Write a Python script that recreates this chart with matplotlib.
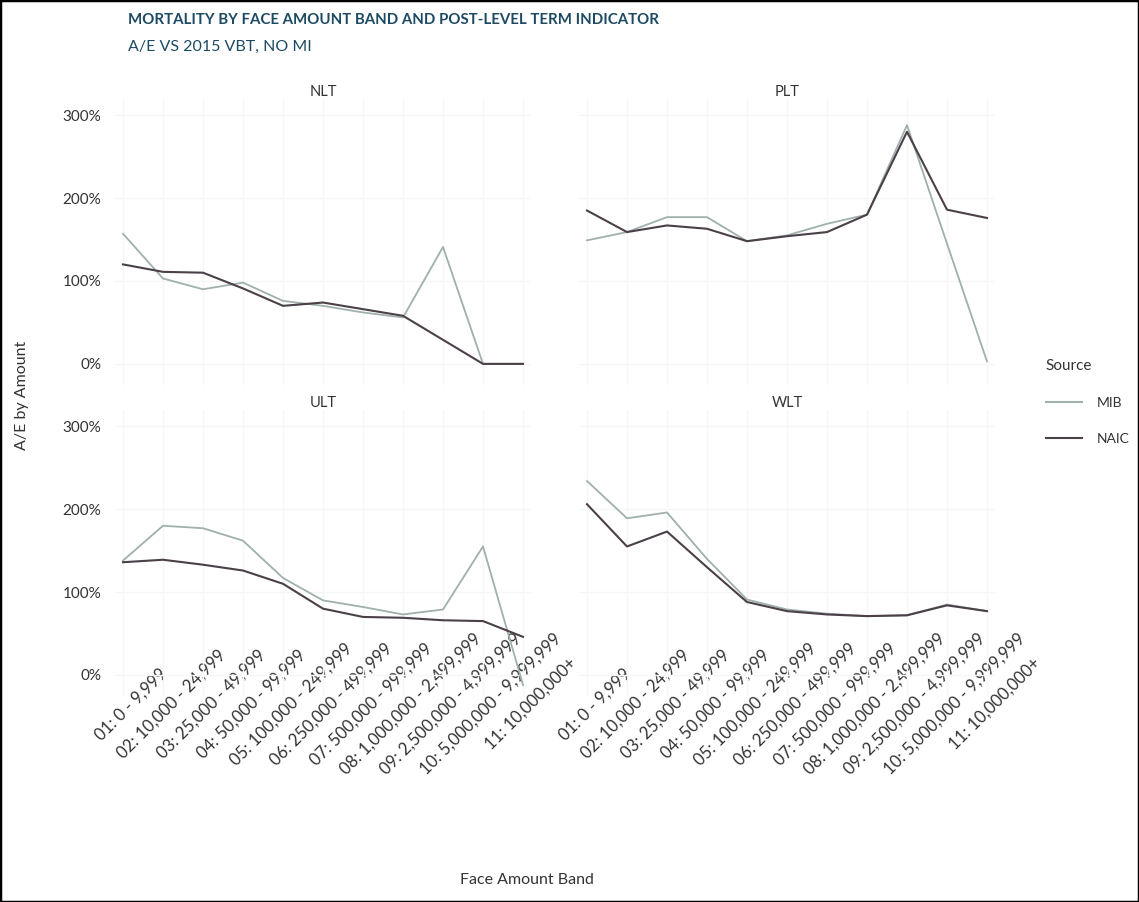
import matplotlib
matplotlib.use("Agg")
import matplotlib.pyplot as plt
import matplotlib.transforms as mtransforms
from matplotlib.ticker import FuncFormatter
from matplotlib.patches import Rectangle
from matplotlib.lines import Line2D

# Face amount bands (x categories)
bands = [
    "01: 0 - 9,999",
    "02: 10,000 - 24,999",
    "03: 25,000 - 49,999",
    "04: 50,000 - 99,999",
    "05: 100,000 - 249,999",
    "06: 250,000 - 499,999",
    "07: 500,000 - 999,999",
    "08: 1,000,000 - 2,499,999",
    "09: 2,500,000 - 4,999,999",
    "10: 5,000,000 - 9,999,999",
    "11: 10,000,000+",
]

panels = ["NLT", "PLT", "ULT", "WLT"]
sources = ["MIB", "NAIC"]

# A/E ratios by post-level term indicator
nlt_mib = [1.57, 1.03, 0.90, 0.98, 0.76, 0.70, 0.62, 0.56, 1.41, 0.00, 0.00]
nlt_naic = [1.20, 1.11, 1.10, 0.91, 0.70, 0.74, 0.66, 0.58, 0.29, 0.00, 0.00]
plt_mib = [1.49, 1.59, 1.77, 1.77, 1.48, 1.55, 1.69, 1.80, 2.88, 1.45, 0.03]
plt_naic = [1.85, 1.59, 1.67, 1.63, 1.48, 1.54, 1.59, 1.80, 2.80, 1.86, 1.76]
ult_mib = [1.38, 1.80, 1.77, 1.62, 1.17, 0.90, 0.82, 0.73, 0.79, 1.55, -0.12]
ult_naic = [1.36, 1.39, 1.33, 1.26, 1.10, 0.80, 0.70, 0.69, 0.66, 0.65, 0.46]
wlt_mib = [2.34, 1.89, 1.96, 1.40, 0.91, 0.79, 0.74, 0.71, 0.72, 0.85, 0.77]
wlt_naic = [2.06, 1.55, 1.73, 1.30, 0.88, 0.77, 0.73, 0.71, 0.72, 0.84, 0.77]

series = {
    "NLT": (nlt_mib, nlt_naic),
    "PLT": (plt_mib, plt_naic),
    "ULT": (ult_mib, ult_naic),
    "WLT": (wlt_mib, wlt_naic),
}

colors = {"MIB": "#9fb0ad", "NAIC": "#4b4048"}
yticks = [0, 1, 2, 3]

plt.rcParams["font.family"] = ["Lato", "DejaVu Sans"]
text_color = "#333333"
title_color = "#1d4a63"

W, H = 1139, 902
fig = plt.figure(figsize=(W / 100, H / 100), dpi=100)
fig.patch.set_facecolor("white")

# axes boxes in pixel units: (left, top, width, height)
boxes = {
    "NLT": (115, 98.6, 416, 286),
    "PLT": (579, 98.6, 416, 286),
    "ULT": (115, 409.7, 416, 286),
    "WLT": (579, 409.7, 416, 286),
}

x = list(range(len(bands)))
pct = FuncFormatter(lambda v, _: f"{v * 100:.0f}%")

axes = {}
for name in panels:
    l, t, w, h = boxes[name]
    ax = fig.add_axes([l / W, 1 - (t + h) / H, w / W, h / H])
    axes[name] = ax
    mib, naic = series[name]
    ax.plot(x, mib, color=colors["MIB"], lw=1.3, zorder=3)
    ax.plot(x, naic, color=colors["NAIC"], lw=1.5, zorder=4)
    ax.set_xlim(-0.2, 10.2)
    ax.set_ylim(-0.25, 3.2)
    ax.set_yticks(yticks)
    ax.set_xticks(x)
    ax.grid(True, color="#f6f6f6", lw=1.0, zorder=0)
    for s in ax.spines.values():
        s.set_visible(False)
    ax.tick_params(length=0, colors=text_color)
    ax.set_title(name, fontsize=10.5, color=text_color, pad=2)

    if name in ("NLT", "ULT"):
        ax.yaxis.set_major_formatter(pct)
        ax.tick_params(axis="y", labelsize=11, pad=10)
    else:
        ax.tick_params(axis="y", labelleft=False)

    if name in ("ULT", "WLT"):
        ax.set_xticklabels(bands, rotation=45, ha="center", va="center",
                           rotation_mode="anchor", fontsize=12, color=text_color)
        ax.tick_params(axis="x", pad=6)
        off = mtransforms.ScaledTranslation(8 / 100, 0, fig.dpi_scale_trans)
        for lab in ax.get_xticklabels():
            lab.set_transform(lab.get_transform() + off)
    else:
        ax.tick_params(axis="x", labelbottom=False)

# titles
fig.text(128 / W, 1 - 20 / H, "MORTALITY BY FACE AMOUNT BAND AND POST-LEVEL TERM INDICATOR",
         fontsize=10.8, fontweight="bold", color=title_color, va="center", ha="left")
fig.text(128 / W, 1 - 47 / H, "A/E VS 2015 VBT, NO MI",
         fontsize=11.5, color=title_color, va="center", ha="left")

# axis titles
fig.text(22 / W, 1 - 395 / H, "A/E by Amount", rotation=90, fontsize=11.5,
         color=text_color, va="center", ha="center")
fig.text(527 / W, 1 - 880 / H, "Face Amount Band", fontsize=11.5,
         color=text_color, va="center", ha="center")

# legend
handles = [Line2D([], [], color=colors[s], lw=1.5) for s in sources]
leg = fig.legend(handles, sources, title="Source", loc="upper left",
                 bbox_to_anchor=(1033 / W, 1 - 347 / H), frameon=False,
                 fontsize=10, title_fontsize=11, handlelength=2.6,
                 labelspacing=1.7, handletextpad=1.1)
leg._legend_box.align = "left"
for t in leg.get_texts():
    t.set_color(text_color)
leg.get_title().set_color(text_color)

# outer frame
fig.patches.append(Rectangle((0, 0), 1, 1, transform=fig.transFigure,
                             fill=False, edgecolor="black", lw=2.5))

fig.savefig("out.png", dpi=100)
